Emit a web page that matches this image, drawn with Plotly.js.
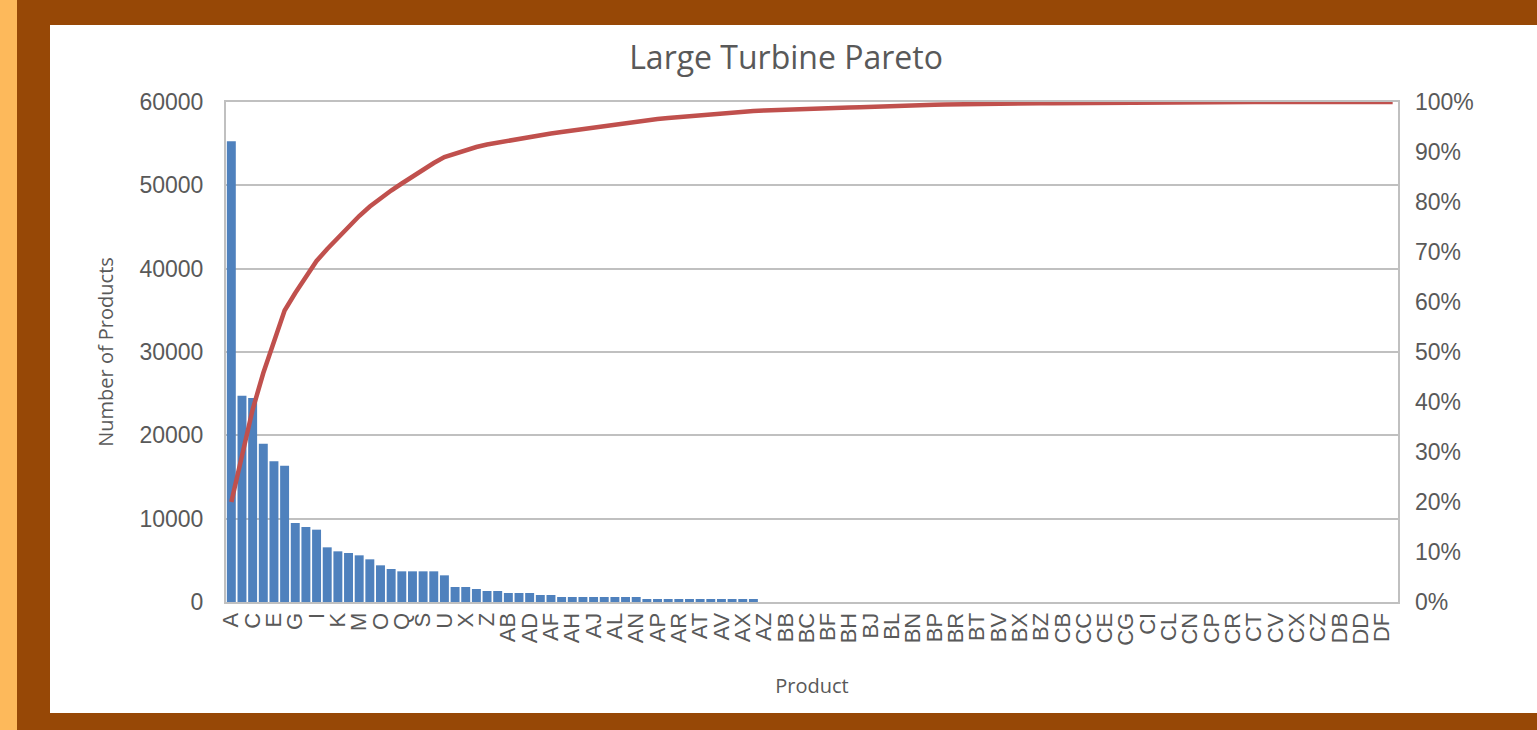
<!DOCTYPE html>
<html>
<head>
<meta charset="utf-8">
<script src="https://cdn.plot.ly/plotly-3.0.1.min.js"></script>
<style>
  html, body { margin: 0; padding: 0; width: 1537px; height: 730px; overflow: hidden; background: #974806; }
  #strip { position: absolute; left: 0; top: 0; width: 17px; height: 730px; background: #FDB95B; }
  #chart { position: absolute; left: 50px; top: 25px; width: 1487px; height: 688px; background: #ffffff; }
</style>
</head>
<body>
<div id="strip"></div>
<div id="chart"></div>
<script>
// Product categories (x axis)
const products = [
  "A","B","C","D","E","F","G","H","I","J","K","L","M","N","O","P","Q","R","S","T",
  "U","W","X","Y","Z","AA","AB","AC","AD","AE","AF","AG","AH","AI","AJ","AK","AL","AM","AN","AO",
  "AP","AQ","AR","AS","AT","AU","AV","AW","AX","AY","AZ","BA","BB","BBB","BC","BE","BF","BG","BH","BI",
  "BJ","BK","BL","BM","BN","BO","BP","BQ","BR","BS","BT","BU","BV","BW","BX","BY","BZ","CA","CB","CBB",
  "CC","CD","CE","CF","CG","CH","CI","CK","CL","CM","CN","CO","CP","CQ","CR","CS","CT","CU","CV","CW",
  "CX","CY","CZ","DA","DB","DC","DD","DE","DF","DG"
];

// Number of products (bars, left axis)
const counts = [
  55300,24760,24480,19000,16880,16360,9480,9000,8680,6560,
  6080,5880,5600,5120,4400,3960,3680,3680,3680,3680,
  3200,1800,1800,1560,1320,1320,1080,1080,1080,840,
  840,600,600,600,600,600,600,600,600,360,
  360,360,360,360,360,360,360,360,360,360,
  0,0,0,0,0,0,0,0,0,0,
  0,0,0,0,0,0,0,0,0,0,
  0,0,0,0,0,0,0,0,0,0,
  0,0,0,0,0,0,0,0,0,0,
  0,0,0,0,0,0,0,0,0,0,
  0,0,0,0,0,0,0,0,0,0
];

// Cumulative percentage (line, right axis)
const cumulativePct = [
  20.0,29.3,38.5,45.8,52.2,58.3,61.8,65.0,68.2,70.6,
  72.9,75.1,77.2,79.1,80.8,82.3,83.7,85.1,86.5,87.8,
  89.0,89.7,90.4,91.0,91.5,91.9,92.3,92.7,93.1,93.4,
  93.7,94.0,94.3,94.7,95.0,95.3,95.6,95.9,96.2,96.4,
  96.6,96.8,97.0,97.2,97.35,97.5,97.7,97.9,98.05,98.2,
  98.3,98.4,98.5,98.6,98.7,98.75,98.8,98.85,98.9,98.95,
  99.05,99.15,99.25,99.3,99.35,99.4,99.45,99.5,99.55,99.6,
  99.62,99.64,99.66,99.68,99.7,99.72,99.74,99.76,99.78,99.8,
  99.83,99.86,99.9,99.93,99.96,100,100,100,100,100,
  100,100,100,100,100,100,100,100,100,100,
  100,100,100,100,100,100,100,100,100,100
];

const leftTicks = [0,10000,20000,30000,40000,50000,60000];
const rightTicks = [0,10,20,30,40,50,60,70,80,90,100];

const xIdx = products.map((_, i) => i);
const labelIdx = xIdx.filter(i => i % 2 === 0);
const labelText = labelIdx.map(i => products[i]);

const gray = '#595959';
const gridGray = '#C0C0C0';

const traces = [
  {
    type: 'bar',
    x: xIdx,
    y: counts,
    customdata: products,
    textposition: 'none',
    marker: { color: '#4F81BD', line: { width: 0 } },
    hovertemplate: '%{customdata}: %{y}<extra></extra>',
    name: 'Number of Products'
  },
  {
    type: 'scatter',
    mode: 'lines',
    x: xIdx,
    y: cumulativePct,
    yaxis: 'y2',
    line: { color: '#C0504D', width: 4.5 },
    hoverinfo: 'y',
    name: 'Cumulative %'
  }
];

const layout = {
  width: 1487,
  height: 688,
  paper_bgcolor: '#ffffff',
  plot_bgcolor: '#ffffff',
  showlegend: false,
  bargap: 0.16,
  margin: { l: 176, r: 139, t: 77, b: 111 },
  title: {
    text: 'Large Turbine Pareto',
    font: { family: 'Open Sans, sans-serif', size: 32, color: gray },
    x: 0.495, xanchor: 'center',
    y: 0.953, yanchor: 'middle'
  },
  xaxis: {
    range: [-0.5, products.length - 0.5],
    tickmode: 'array',
    tickvals: labelIdx,
    ticktext: labelText,
    tickangle: -90,
    tickfont: { family: 'Liberation Sans, Arial, sans-serif', size: 22, color: gray },
    showgrid: false,
    zeroline: false,
    showline: true,
    linecolor: gridGray,
    linewidth: 2,
    mirror: true,
    ticks: '',
    title: {
      text: 'Product',
      font: { family: 'Open Sans, sans-serif', size: 20, color: gray },
      standoff: 34
    }
  },
  yaxis: {
    range: [0, 60000],
    tickmode: 'array',
    tickvals: leftTicks,
    ticktext: leftTicks.map(String),
    tickfont: { family: 'Liberation Sans, Arial, sans-serif', size: 23, color: gray },
    showgrid: true,
    gridcolor: gridGray,
    gridwidth: 2,
    zeroline: false,
    showline: true,
    linecolor: gridGray,
    linewidth: 2,
    mirror: true,
    ticks: '',
    ticklabelstandoff: 16,
    title: {
      text: 'Number of Products',
      font: { family: 'Open Sans, sans-serif', size: 20, color: gray },
      standoff: 20
    }
  },
  yaxis2: {
    overlaying: 'y',
    side: 'right',
    range: [0, 100],
    tickmode: 'array',
    tickvals: rightTicks,
    ticktext: rightTicks.map(v => v + '%'),
    tickfont: { family: 'Liberation Sans, Arial, sans-serif', size: 23, color: gray },
    showgrid: false,
    zeroline: false,
    showline: false,
    ticks: '',
    ticklabelstandoff: 16
  }
};

Plotly.newPlot('chart', traces, layout, { displayModeBar: false, staticPlot: true });
</script>
</body>
</html>
